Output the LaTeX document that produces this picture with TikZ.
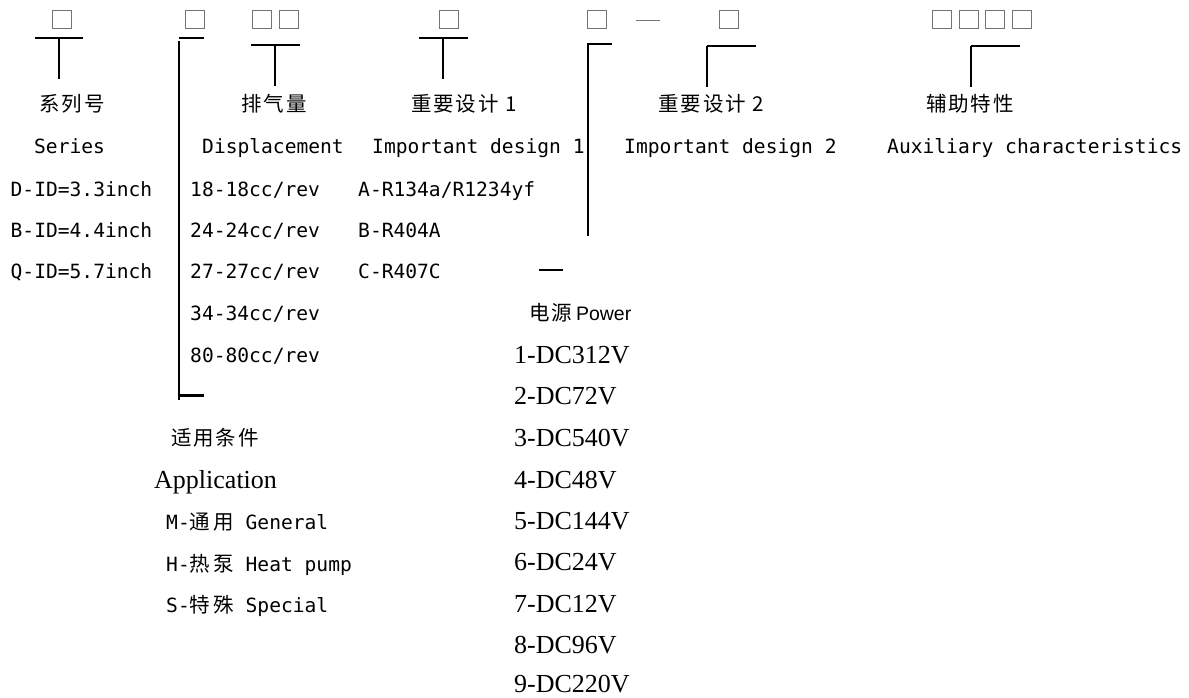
\documentclass[tikz,border=0pt]{standalone}
\usepackage{fontspec}
\newfontfamily\monof{DejaVu Sans Mono}
\newfontfamily\cjkh[LetterSpace=9]{Noto Sans CJK SC}
\newfontfamily\cjkm[LetterSpace=15]{Noto Sans CJK SC}
\newfontfamily\serf{Liberation Serif}
\newfontfamily\arialf{Liberation Sans}
\newcommand\cm[1]{{\fontsize{20.5}{22}\selectfont\cjkm #1}}
\begin{document}
\begin{tikzpicture}[x=1pt,y=-1pt,
  sq/.style={draw=black!55, line width=1pt, minimum width=19pt, minimum height=17.6pt, inner sep=0pt},
  bar/.style={line width=2.7pt},
  stem/.style={line width=1.8pt},
  mono/.style={font=\fontsize{19.6}{22}\selectfont\monof, inner sep=0pt, anchor=base west},
  ser/.style={font=\fontsize{26}{28}\selectfont\serf, inner sep=0pt, anchor=base west},
  hdr/.style={font=\fontsize{20.5}{22}\selectfont\cjkh, inner sep=0pt, anchor=center}]
\useasboundingbox (0,0) rectangle (1189,697);
% boxes
\node[sq] (b1) at (61.5,19.5) {};
\node[sq] (b2) at (194.5,19.5) {};
\node[sq] (b3) at (261.5,19.5) {};
\node[sq] (b4) at (288.5,19.5) {};
\node[sq] (b5) at (448.5,19.5) {};
\node[sq] (b6) at (597,19.5) {};
\node[sq] (b7) at (729,19.5) {};
\node[sq] (b8) at (941.5,19.5) {};
\node[sq] (b9) at (968.5,19.5) {};
\node[sq] (b10) at (995,19.5) {};
\node[sq] (b11) at (1021.5,19.5) {};
\draw[black!55, line width=0.9pt] (636,20) -- (660,20);
% brackets
\draw[bar] (35,38) -- (83,38);
\draw[stem] (59,38) -- (59,79);
\draw[bar] (179,38) -- (204,38);
\draw[stem] (179,41) -- (179,400);
\draw[bar] (179,395.5) -- (204,395.5);
\draw[bar] (251,45) -- (300,45);
\draw[stem] (275,45) -- (275,86);
\draw[bar] (419,38) -- (468,38);
\draw[stem] (443,38) -- (443,79);
\draw[bar] (612,44) -- (588,44) -- (588,236);
\draw[bar] (756,46) -- (706.5,46);
\draw[stem] (707,46) -- (707,87);
\draw[bar] (1020,46) -- (970.5,46);
\draw[stem] (971,46) -- (971,87);
\draw[bar] (539,270) -- (563,270);
% headers
\node[hdr] (h1) at (72,104) {系列号};
\node[hdr] (h2) at (274,104) {排气量};
\node[hdr] (h3) at (464,104) {重要设计 1};
\node[hdr] (h4) at (711,104) {重要设计 2};
\node[hdr] (h5) at (970,104) {辅助特性};
% english headers
\node[mono] (e1) at (34,153) {Series};
\node[mono] (e2) at (202,153) {Displacement};
\node[mono] (e3) at (372,153) {Important design 1};
\node[mono] (e4) at (624,153) {Important design 2};
\node[mono] (e5) at (887,153) {Auxiliary characteristics};
% series
\node[mono] (s1) at (10.5,196) {D-ID=3.3inch};
\node[mono] (s2) at (10.5,237) {B-ID=4.4inch};
\node[mono] (s3) at (10.5,278) {Q-ID=5.7inch};
% displacement
\node[mono] (d1) at (190,196) {18-18cc/rev};
\node[mono] (d2) at (190,237) {24-24cc/rev};
\node[mono] (d3) at (190,278) {27-27cc/rev};
\node[mono] (d4) at (190,320.5) {34-34cc/rev};
\node[mono] (d5) at (190,362.5) {80-80cc/rev};
% design 1
\node[mono] (r1) at (358,196) {A-R134a/R1234yf};
\node[mono] (r2) at (358,237) {B-R404A};
\node[mono] (r3) at (358,278) {C-R407C};
% application
\node[hdr] (a0) at (215,438) {适用条件};
\node[ser] (a1) at (154,488) {Application};
\node[mono] (a2) at (166,529) {M-\cm{通用} General};
\node[mono] (a3) at (166,571) {H-\cm{热泵} Heat pump};
\node[mono] (a4) at (166,612) {S-\cm{特殊} Special};
% power
\node[inner sep=0pt, anchor=base west] (p0) at (529,320) {{\fontsize{20.5}{22}\selectfont\cjkh 电源}\hspace{4pt}{\fontsize{19.5}{22}\selectfont\arialf Power}};
\node[ser] (p1) at (514,363) {1-DC312V};
\node[ser] (p2) at (514,404) {2-DC72V};
\node[ser] (p3) at (514,446) {3-DC540V};
\node[ser] (p4) at (514,488) {4-DC48V};
\node[ser] (p5) at (514,529) {5-DC144V};
\node[ser] (p6) at (514,570) {6-DC24V};
\node[ser] (p7) at (514,612) {7-DC12V};
\node[ser] (p8) at (514,653) {8-DC96V};
\node[ser] (p9) at (514,692.5) {9-DC220V};
\end{tikzpicture}
\end{document}
